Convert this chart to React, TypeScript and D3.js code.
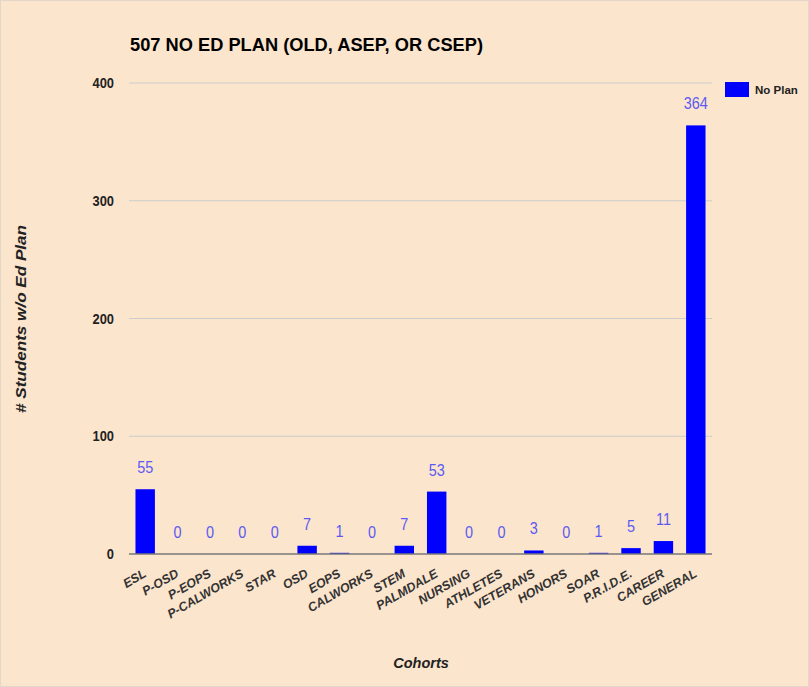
import React from "react";
import * as d3 from "d3";

const categories = [
  "ESL", "P-OSD", "P-EOPS", "P-CALWORKS", "STAR", "OSD", "EOPS", "CALWORKS", "STEM",
  "PALMDALE", "NURSING", "ATHLETES", "VETERANS", "HONORS", "SOAR", "P.R.I.D.E.", "CAREER", "GENERAL",
];
const values = [55, 0, 0, 0, 0, 7, 1, 0, 7, 53, 0, 0, 3, 0, 1, 5, 11, 364];
const yTicks = [0, 100, 200, 300, 400];
const seriesName = "No Plan";
const title = "507 NO ED PLAN (OLD, ASEP, OR CSEP)";
const yTitle = "# Students w/o Ed Plan";
const xTitle = "Cohorts";

const W = 809;
const H = 687;
const left = 129;
const right = 712;
const top = 83;
const bottom = 554;
const FONT = "Arial, 'Liberation Sans', sans-serif";

export default function App() {
  const x = d3.scaleBand<string>().domain(categories).range([left, right]).paddingInner(0.4).paddingOuter(0.2);
  const y = d3.scaleLinear().domain([0, 400]).range([bottom, top]);

  return (
    <svg width={W} height={H} style={{ position: "absolute", left: 0, top: 0 }} fontFamily={FONT}>
      <rect x={0.5} y={0.5} width={W - 1} height={H - 1} fill="#fce5cd" stroke="#e4d6c8" />
      <text x={130} y={51} fontSize={18.5} fontWeight="bold" fill="#000" textLength={353} lengthAdjust="spacingAndGlyphs">
        {title}
      </text>
      {yTicks.map((t) => (
        <g key={t}>
          {t > 0 && <line x1={left} x2={right} y1={y(t)} y2={y(t)} stroke="#cccccc" strokeWidth={1} />}
          <text
            transform={`translate(114,${y(t) + 5}) scale(0.92,1)`}
            textAnchor="end"
            fontSize={14}
            fontWeight="bold"
            fill="#222"
          >
            {t}
          </text>
        </g>
      ))}
      {values.map((v, i) => {
        const cx = (x(categories[i]) ?? 0) + x.bandwidth() / 2;
        return (
          <g key={categories[i]}>
            <rect x={x(categories[i])} y={y(v)} width={x.bandwidth()} height={bottom - y(v)} fill="#0000ff" />
            <text
              transform={`translate(${cx},${y(v) - 16}) scale(0.85,1)`}
              textAnchor="middle"
              fontSize={17}
              fill="#5a5af2"
            >
              {v}
            </text>
            <text
              transform={`translate(${cx + 2},576) rotate(-30)`}
              textAnchor="end"
              fontSize={12.5}
              fontStyle="italic"
              fontWeight="bold"
              fill="#333"
            >
              {categories[i]}
            </text>
          </g>
        );
      })}
      <line x1={left} x2={right} y1={bottom} y2={bottom} stroke="#777" strokeWidth={1.5} />
      <text
        transform="translate(26,319) rotate(-90)"
        textAnchor="middle"
        fontSize={14.5}
        fontStyle="italic"
        fontWeight="bold"
        fill="#222"
        textLength={188}
        lengthAdjust="spacingAndGlyphs"
      >
        {yTitle}
      </text>
      <text x={421} y={668} textAnchor="middle" fontSize={14.5} fontStyle="italic" fontWeight="bold" fill="#222">
        {xTitle}
      </text>
      <rect x={725} y={82} width={24} height={15} fill="#0000ff" />
      <text x={755} y={94} fontSize={11.5} fontWeight="bold" fill="#222">
        {seriesName}
      </text>
    </svg>
  );
}
